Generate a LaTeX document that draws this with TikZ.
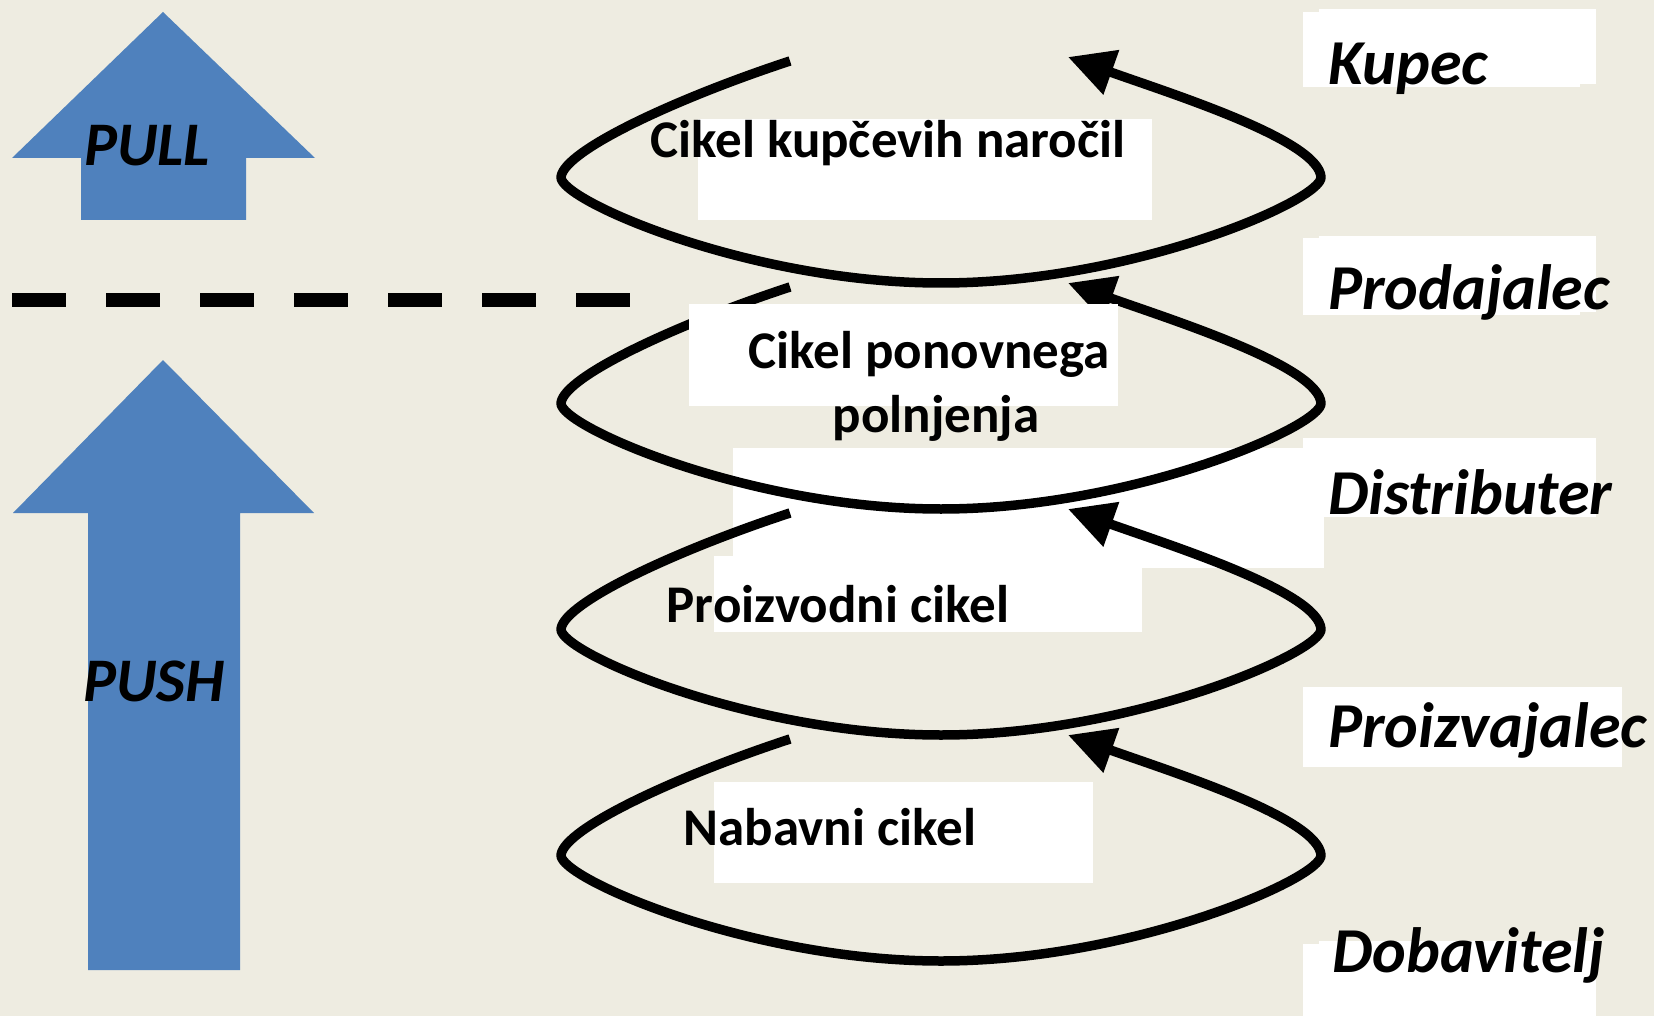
\documentclass[tikz,border=0pt]{standalone}
\usepackage{fontspec}
\setmainfont{Carlito}
\usetikzlibrary{arrows.meta}
\definecolor{bgtan}{HTML}{EEECE1}
\definecolor{pushblue}{HTML}{4F81BD}
\begin{document}
\begin{tikzpicture}[x=1pt,y=-1pt,
  cyc/.style={line width=9.5pt, line join=round, -{Triangle[length=46pt,width=45pt]}},
  whitebox/.style={fill=white, draw=none},
  bigarrow/.style={fill=pushblue, draw=none},
  dirlabel/.style={font=\fontsize{62}{70}\selectfont\bfseries\itshape, inner sep=0pt, anchor=base},
  rolelabel/.style={font=\fontsize{64}{72}\selectfont\bfseries\itshape, inner sep=0pt, anchor=base west},
  cyclabel/.style={font=\fontsize{53}{62}\selectfont\bfseries, inner sep=0pt, anchor=base},
  sepline/.style={line width=13pt, dash pattern=on 54pt off 40pt}]
\fill[bgtan] (0,0) rectangle (1654,1016);
\useasboundingbox (0,0) rectangle (1654,1016);

% big arrows
\fill[bigarrow] (163,12) -- (315,158) -- (246,158) -- (246,220) -- (81,220) -- (81,158) -- (12,158) -- cycle;
\fill[bigarrow] (163,360) -- (314,513) -- (240,513) -- (240,970) -- (88,970) -- (88,513) -- (13,513) -- cycle;
\node[dirlabel] (pull) at (147,166) {PULL};
\node[dirlabel] (push) at (154,701) {PUSH};

% dashed separator
\coordinate (d0) at (12,300);
\coordinate (d1) at (631,300);
\draw[sepline] (d0) -- (d1);

% white boxes of the role labels
\fill[whitebox] (1319,9) rectangle (1596,84);
\fill[whitebox] (1303,12) rectangle (1580,87);
\fill[whitebox] (1319,236) rectangle (1596,312);
\fill[whitebox] (1303,238) rectangle (1580,315);
\fill[whitebox] (1303,438) rectangle (1596,517);
\fill[whitebox] (1303,687) rectangle (1622,767);
\fill[whitebox] (1319,941) rectangle (1596,1016);
\fill[whitebox] (1303,944) rectangle (1596,1016);
\fill[whitebox] (733,448) rectangle (1324,568);

% cycles
\foreach \dy in {0,226,452,678} {
  \begin{scope}[yshift=-\dy pt]
    \draw[cyc] (790,61) .. controls (680,97) and (564,150) .. (561,177)
      .. controls (559,200) and (750,283) .. (941,283)
      .. controls (1132,283) and (1323,200) .. (1321,177)
      .. controls (1318,140) and (1175,95) .. (1068,57);
  \end{scope}
}

% cycle label boxes
\fill[whitebox] (698,119) rectangle (1152,220);
\fill[whitebox] (689,304) rectangle (1118,406);
\fill[whitebox] (714,556) rectangle (1142,632);
\fill[whitebox] (714,782) rectangle (1093,883);

\node[cyclabel] (c1) at (888,158) {Cikel kupčevih naročil};
\node[cyclabel] (c2a) at (929,368) {Cikel ponovnega};
\node[cyclabel] (c2b) at (936,432) {polnjenja};
\node[cyclabel] (c3) at (838,622) {Proizvodni cikel};
\node[cyclabel] (c4) at (830,845) {Nabavni cikel};

% role labels
\node[rolelabel] (kupec) at (1328,85) {Kupec};
\node[rolelabel] (prod) at (1328,309) {Prodajalec};
\node[rolelabel] (dist) at (1328,514) {Distributer};
\node[rolelabel] (proiz) at (1328,747) {Proizvajalec};
\node[rolelabel] (dob) at (1332,972) {Dobavitelj};
\end{tikzpicture}
\end{document}
